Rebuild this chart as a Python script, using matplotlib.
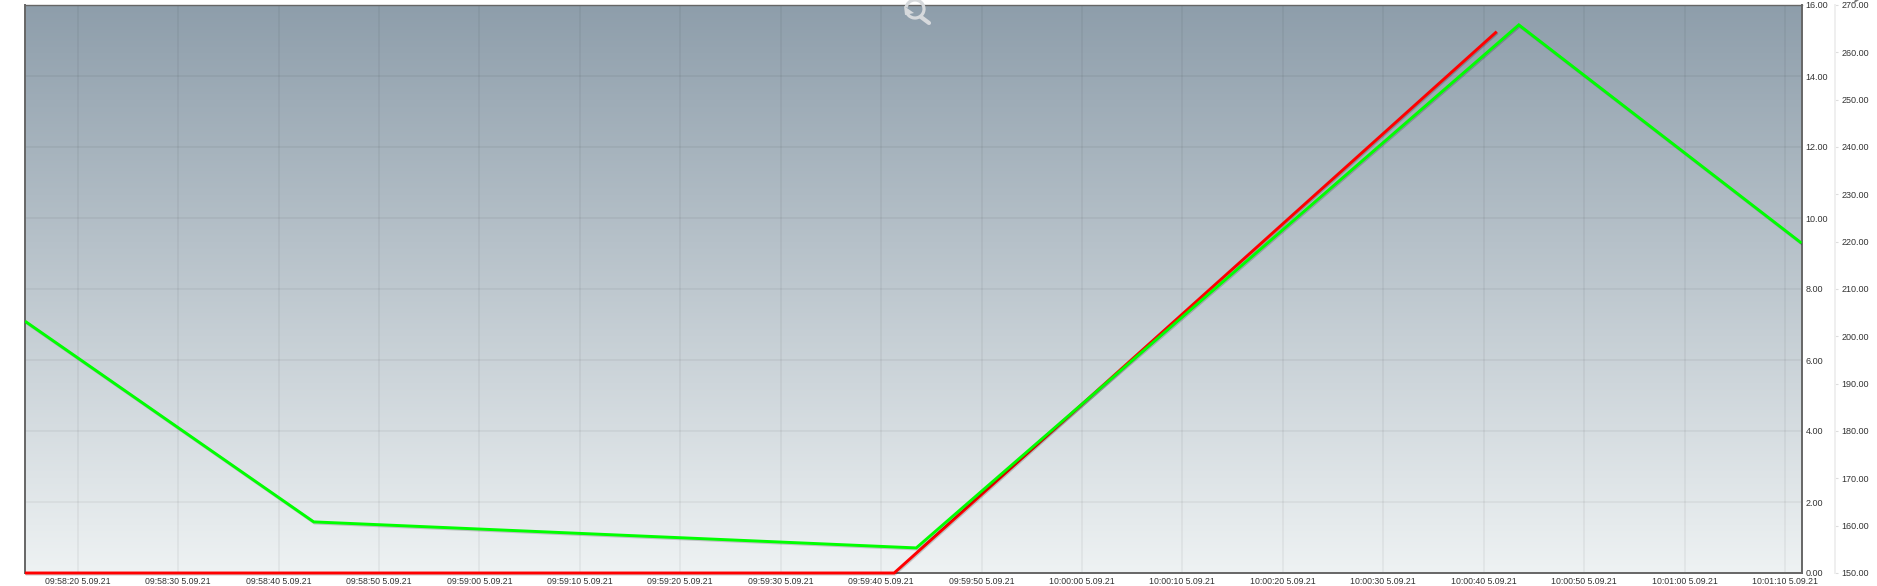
import numpy as np
import matplotlib
matplotlib.use("Agg")
import matplotlib.pyplot as plt
import matplotlib.patheffects as pe
from matplotlib.patches import Arc, Polygon
from matplotlib.lines import Line2D
from matplotlib.colors import LinearSegmentedColormap

plt.rcParams['font.family'] = ['Liberation Sans', 'DejaVu Sans']

# seconds after 09:58:00
green_t = [14.75, 43.5, 103.5, 163.5, 191.65]
green_v = [203.2, 160.8, 155.3, 265.8, 219.7]
red_t = [14.75, 101.3, 161.3]
red_v = [0.0, 0.0, 15.25]

time_ticks = [20, 30, 40, 50, 60, 70, 80, 90, 100, 110, 120, 130, 140, 150, 160, 170, 180, 190]
time_labels = ['09:58:20 5.09.21', '09:58:30 5.09.21', '09:58:40 5.09.21', '09:58:50 5.09.21',
               '09:59:00 5.09.21', '09:59:10 5.09.21', '09:59:20 5.09.21', '09:59:30 5.09.21',
               '09:59:40 5.09.21', '09:59:50 5.09.21', '10:00:00 5.09.21', '10:00:10 5.09.21',
               '10:00:20 5.09.21', '10:00:30 5.09.21', '10:00:40 5.09.21', '10:00:50 5.09.21',
               '10:01:00 5.09.21', '10:01:10 5.09.21']
left_ticks = [0, 2, 4, 6, 8, 10, 12, 14, 16]
right_ticks = [150, 160, 170, 180, 190, 200, 210, 220, 230, 240, 250, 260, 270]

W, H = 1877, 586
fig = plt.figure(figsize=(W / 100, H / 100), dpi=100, facecolor='white')
L, R, T, B = 25, 1801.5, 5, 573
ax = fig.add_axes([L / W, 1 - B / H, (R - L) / W, (B - T) / H])

# background gradient
cmap = LinearSegmentedColormap.from_list('bg', ['#8e9eab', '#eef2f3'])
ax.imshow(np.linspace(0, 1, 256).reshape(-1, 1), cmap=cmap, aspect='auto',
          extent=(0, 1, 0, 1), transform=ax.transAxes, zorder=0)

ax.set_xlim(14.75, 191.65)
ax.set_ylim(0, 16)
ax.set_xticks(time_ticks)
ax.set_xticklabels(time_labels)
ax.set_yticks(left_ticks)
ax.set_yticklabels(['%.2f' % v for v in left_ticks])
ax.tick_params(axis='x', length=0, pad=3, labelsize=6.3, labelcolor='#333333')
ax.grid(True, color='#000000', alpha=0.05, lw=1.2)
ax.set_axisbelow(True)
for s in ['left', 'bottom', 'right']:
    ax.spines[s].set_color('#666666')
    ax.spines[s].set_linewidth(1.4)
ax.spines['top'].set_color('#666666')
ax.spines['top'].set_linewidth(1.0)

shadow = [pe.SimpleLineShadow(offset=(0.6, -0.8), shadow_color='#000000', alpha=0.18), pe.Normal()]

ax2 = ax.twinx()
ax2.set_ylim(150, 270)
ax2.set_yticks(right_ticks)
ax2.set_yticklabels(['%.2f' % v for v in right_ticks])
ax2.spines['right'].set_position(('outward', 33.5 * 0.72))
for s in ['left', 'bottom', 'top']:
    ax2.spines[s].set_visible(False)
ax2.spines['right'].set_color('#efefef')
ax2.spines['right'].set_linewidth(1.4)
ax2.tick_params(axis='y', length=2.4, width=0.8, color='#dddddd', pad=2.5,
                labelsize=6.5, labelcolor='#333333')
ax2.grid(False)

# twinx moves the first axis ticks back to the left
ax.yaxis.tick_right()
ax.tick_params(axis='y', length=0, pad=3, labelsize=6.5, labelcolor='#333333')

ax.plot(red_t, red_v, color='#ff0000', lw=2.1, solid_capstyle='butt',
        solid_joinstyle='miter', clip_on=False, path_effects=shadow, zorder=3)
ax2.plot(green_t, green_v, color='#00ff00', lw=2.1, solid_capstyle='butt',
         solid_joinstyle='miter', path_effects=shadow, zorder=4)

# zoom reset icon
def px(x, y):
    return x / W, 1 - y / H

icon = '#d6d9dc'
ic = px(915, 9)
fig.add_artist(Arc(ic, 2 * 9 / W, 2 * 9 / H, theta1=-125, theta2=150,
                   transform=fig.transFigure, color=icon, lw=2.3))
fig.add_artist(Polygon([px(904, 6), px(914, 13), px(905, 15)], closed=True,
                       transform=fig.transFigure, color=icon, lw=0))
fig.add_artist(Line2D([px(921, 17)[0], px(929, 23)[0]], [px(921, 17)[1], px(929, 23)[1]],
                      transform=fig.transFigure, color=icon, lw=3, solid_capstyle='round'))
# corner of a second icon, cut off by the top edge
fig.add_artist(Polygon([px(1853, 4), px(1859, 0), px(1855, 0)], closed=True,
                       transform=fig.transFigure, color='#777777', lw=0))

fig.savefig('out.png', dpi=100, facecolor='white')
